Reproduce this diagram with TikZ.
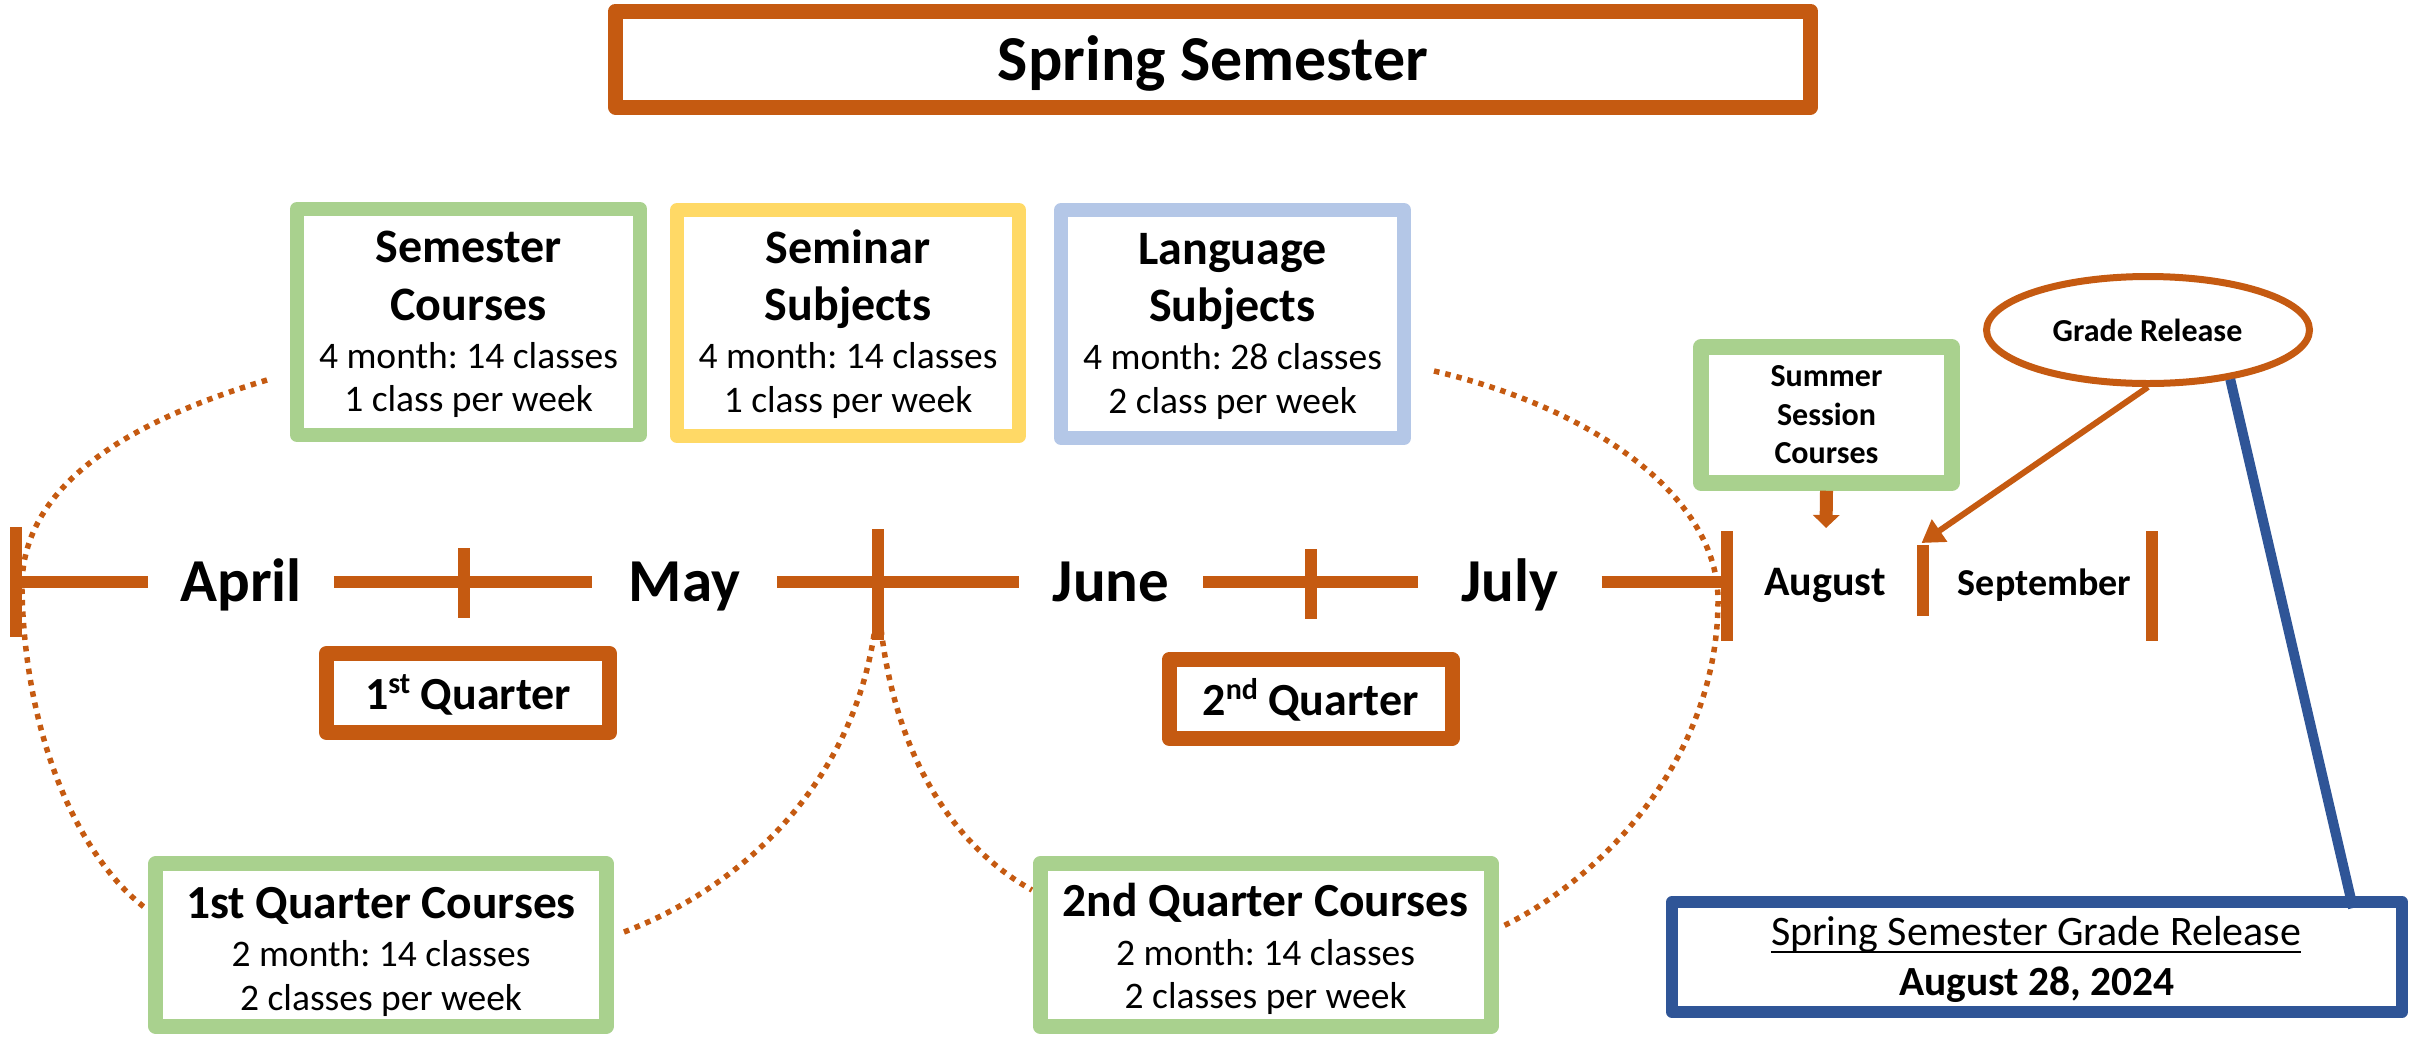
\documentclass[tikz,border=0pt]{standalone}
\usepackage{fontspec}
\setmainfont{Carlito}
\usetikzlibrary{arrows.meta,shapes.geometric}
\definecolor{gborder}{HTML}{A9D18E}
\definecolor{yborder}{HTML}{FFD966}
\definecolor{bborder}{HTML}{B4C7E7}
\definecolor{orng}{HTML}{C55A11}
\definecolor{dblue}{HTML}{2F5597}
\newcommand{\fsz}[1]{\fontsize{#1}{#1}\selectfont}
\newcommand{\supx}[1]{\raisebox{0.34em}{\fontsize{30}{30}\selectfont #1}}
\frenchspacing
\tikzset{
  box/.style={rectangle, draw, fill=white, inner sep=0pt, line join=round},
  gbox/.style={box, draw=gborder, line width=15pt},
  ybox/.style={box, draw=yborder, line width=14pt},
  lbox/.style={box, draw=bborder, line width=14pt},
  obox/.style={box, draw=orng, line width=15pt},
  txt/.style={inner sep=0pt, anchor=base},
  hd/.style={txt, font=\bfseries\fsz{48}},
  bd/.style={txt, font=\fsz{37.5}},
  mon/.style={txt, font=\bfseries\fsz{61}},
  smon/.style={txt, font=\bfseries\fsz{42}},
  tline/.style={draw=orng, line width=12pt},
  tickl/.style={draw=orng, line width=12pt},
  dots/.style={draw=orng, line width=5.5pt, dash pattern=on 5.5pt off 6pt},
}
\begin{document}
\begin{tikzpicture}[x=1pt,y=-1pt]
\useasboundingbox (0,0) rectangle (2417,1037);

% ---------- timeline ----------
\coordinate (k0) at (15.5,582);
\coordinate (k1) at (464,583);
\coordinate (k2) at (878,584.5);
\coordinate (k3) at (1311,584);
\coordinate (k4) at (1726.5,586);
\coordinate (k5) at (1923,580.5);
\coordinate (k6) at (2152,586);

\node[mon, inner xsep=32pt] (apr) at (241,601) {April};
\node[mon, inner xsep=37pt] (may) at (684.6,601) {May};
\node[mon, inner xsep=34pt] (jun) at (1111,601) {June};
\node[mon, inner xsep=43pt] (jul) at (1510,601) {July};
\node[smon] (aug) at (1825,595) {August};
\node[smon, font=\bfseries\fsz{38}] (sep) at (2044.5,595) {September};

\draw[tline] (k0) -- (k0 -| apr.west);
\draw[tline] (apr.east |- k0) -- (may.west |- k0);
\draw[tline] (may.east |- k0) -- (jun.west |- k0);
\draw[tline] (jun.east |- k0) -- (jul.west |- k0);
\draw[tline] (jul.east |- k0) -- (k4 |- k0);

\draw[tickl] ([yshift=55pt]k0) -- ([yshift=-55pt]k0);
\draw[tickl] ([yshift=35pt]k1) -- ([yshift=-35pt]k1);
\draw[tickl] ([yshift=55.5pt]k2) -- ([yshift=-55.5pt]k2);
\draw[tickl] ([yshift=35pt]k3) -- ([yshift=-35pt]k3);
\draw[tickl] ([yshift=55pt]k4) -- ([yshift=-55pt]k4);
\draw[tickl] ([yshift=35.5pt]k5) -- ([yshift=-35.5pt]k5);
\draw[tickl] ([yshift=55pt]k6) -- ([yshift=-55pt]k6);

% ---------- dotted curves ----------
\coordinate (c1s) at (267,380);
\coordinate (c1m) at (22,590);
\coordinate (c1e) at (148,910);
\coordinate (c2s) at (624,932);
\coordinate (c2e) at (878,595);
\coordinate (c3e) at (1032,890);
\coordinate (c4s) at (1434,371);
\coordinate (c4m) at (1718,600);
\coordinate (c4e) at (1501,927);
\draw[dots] (c1s) .. controls (100,430) and (20,500) .. (c1m)
                 .. controls (25,740) and (80,860) .. (c1e);
\draw[dots] (c2s) .. controls (760,880) and (870,760) .. (c2e);
\draw[dots] (c2e) .. controls (888,760) and (960,850) .. (c3e);
\draw[dots] (c4s) .. controls (1600,410) and (1718,500) .. (c4m)
                 .. controls (1718,760) and (1600,880) .. (c4e);

% ---------- title ----------
\node[box, draw=orng, line width=15pt, minimum width=1195pt, minimum height=96pt] (title) at (1213,59) {};
\node[txt, font=\bfseries\fsz{64}] (titlet) at (1213,80) {Spring Semester};

% ---------- top boxes ----------
\node[gbox, line width=14pt, minimum width=343pt, minimum height=226pt] (sc) at (468.5,322) {};
\node[hd] (sc1) at (468.5,262.7) {Semester};
\node[hd] (sc2) at (468.5,320) {Courses};
\node[bd] (sc3) at (468.5,368) {4 month: 14 classes};
\node[bd] (sc4) at (468.5,411.7) {1 class per week};

\node[ybox, minimum width=342pt, minimum height=226pt] (ss) at (848,323) {};
\node[hd] (ss1) at (848,263) {Seminar};
\node[hd] (ss2) at (848,320.5) {Subjects};
\node[bd] (ss3) at (848,368.5) {4 month: 14 classes};
\node[bd] (ss4) at (848,412) {1 class per week};

\node[lbox, minimum width=343pt, minimum height=228pt] (ls) at (1232.5,324) {};
\node[hd] (ls1) at (1232.5,264) {Language};
\node[hd] (ls2) at (1232.5,321.5) {Subjects};
\node[bd] (ls3) at (1232.5,369.5) {4 month: 28 classes};
\node[bd] (ls4) at (1232.5,413) {2 class per week};

% ---------- summer ----------
\node[gbox, line width=15.5pt, minimum width=251pt, minimum height=136pt] (su) at (1826.5,415) {};
\node[txt, font=\bfseries\fsz{32}] (su1) at (1826.5,386) {Summer};
\node[txt, font=\bfseries\fsz{32}] (su2) at (1826.5,425) {Session};
\node[txt, font=\bfseries\fsz{32}] (su3) at (1826.5,463) {Courses};
\coordinate (sua) at (1826,528);
\draw[orng, line width=13pt, -{Triangle[width=26pt,length=13pt]}] (su.south) -- (sua);

% ---------- grade release ----------
\node[ellipse, draw=orng, fill=white, line width=7pt, inner sep=0pt,
      minimum width=323pt, minimum height=107pt] (ge) at (2148,330) {};
\node[txt, font=\bfseries\fsz{32}] (get) at (2147.5,341.7) {Grade Release};
\coordinate (gat) at (1921.5,543);
\draw[orng, line width=6pt, -{Triangle[width=26pt,length=22pt]}] (ge.south) -- (gat);

% ---------- blue release box ----------
\node[box, draw=dblue, line width=12pt, minimum width=730pt, minimum height=110pt] (bb) at (2037,957) {};
\coordinate (bbt) at (2353,908);
\draw[dblue, line width=10pt] (ge.-31) -- (bbt);
\node[txt, font=\fsz{42}] (bb1) at (2036,945) {Spring Semester Grade Release};
\draw[line width=2.2pt] ([yshift=-7pt]bb1.base west) -- ([yshift=-7pt]bb1.base east);
\node[txt, font=\bfseries\fsz{41.5}] (bb2) at (2037,995) {August 28, 2024};

% ---------- quarter boxes ----------
\node[obox, minimum width=283pt, minimum height=79pt] (q1) at (468,693) {};
\node[txt, font=\bfseries\fsz{46}] (q1t) at (468,709) {1\supx{st} Quarter};
\node[obox, minimum width=283pt, minimum height=78.5pt] (q2) at (1310.5,699) {};
\node[txt, font=\bfseries\fsz{46}] (q2t) at (1310.5,715) {2\supx{nd} Quarter};

% ---------- quarter course boxes ----------
\node[gbox, minimum width=450.5pt, minimum height=162.5pt] (qc1) at (381,945) {};
\node[txt, font=\bfseries\fsz{47.5}] (qc1a) at (381,918) {1st Quarter Courses};
\node[bd] (qc1b) at (381,966.7) {2 month: 14 classes};
\node[bd] (qc1c) at (381,1010) {2 classes per week};

\node[gbox, minimum width=451pt, minimum height=162.5pt] (qc2) at (1265.6,945) {};
\node[txt, font=\bfseries\fsz{47.5}] (qc2a) at (1265.6,916.7) {2nd Quarter Courses};
\node[bd] (qc2b) at (1265.6,965) {2 month: 14 classes};
\node[bd] (qc2c) at (1265.6,1008) {2 classes per week};
\end{tikzpicture}
\end{document}
